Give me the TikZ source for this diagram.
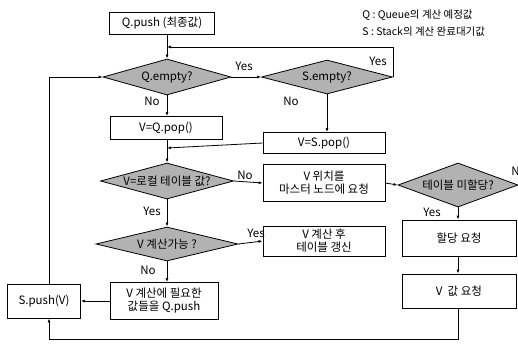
\documentclass[tikz,border=0pt]{standalone}
\usepackage{fontspec}
\setmainfont{Noto Sans CJK KR}
\usetikzlibrary{shapes.geometric,arrows.meta}
\newcommand{\zw}[1]{\makebox[0pt]{#1}}
\begin{document}
\begin{tikzpicture}[x=1pt,y=-1pt,
  line width=0.8pt,
  font=\fontsize{11.5}{13}\selectfont,
  box/.style={draw, rectangle, inner sep=1pt, align=center},
  dia/.style={draw, diamond, fill=gray!60, inner sep=0pt, aspect=3.5},
  arr/.style={-{Latex[length=4pt,width=3pt]}},
  lbl/.style={inner sep=0pt}]
\useasboundingbox (0,0) rectangle (518,343);
% nodes
\node[box, minimum width=105pt, minimum height=22pt] (qpush) at (162,23) {Q.push (최종값)};
\node[dia, minimum width=128pt, minimum height=36pt] (qempty) at (167,77) {\zw{Q.empty?}};
\node[dia, minimum width=131pt, minimum height=34pt] (sempty) at (327,77) {\zw{S.empty?}};
\node[box, minimum width=112pt, minimum height=23pt] (qpop) at (166,128) {V=Q.pop()};
\node[box, minimum width=122pt, minimum height=21pt] (spop) at (324,143) {V=S.pop()};
\node[dia, minimum width=133pt, minimum height=36pt] (vlocal) at (167,181) {\zw{V=로컬 테이블 값?}};
\node[box, minimum width=122pt, minimum height=37pt] (vpos) at (324,183) {V 위치를\\마스터 노드에 요청};
\node[dia, minimum width=120pt, minimum height=44pt] (tbl) at (458,185) {\zw{테이블 미할당?}};
\node[dia, minimum width=142pt, minimum height=34pt] (vcan) at (167,244) {\zw{V 계산가능 ?}};
\node[box, minimum width=122pt, minimum height=30pt] (vupd) at (324,241) {V 계산 후\\테이블 갱신};
\node[box, minimum width=114pt, minimum height=36pt] (alloc) at (459,238) {할당 요청};
\node[box, minimum width=114pt, minimum height=34pt] (vval) at (459,291) {V\ \ 값 요청};
\node[box, minimum width=108pt, minimum height=37pt] (vneed) at (164,301) {V 계산에 필요한\\값들을 Q.push};
\node[box, minimum width=73pt, minimum height=34pt] (spush) at (44,301) {S.push(V)};
% legend
\node[lbl, anchor=west, font=\fontsize{10.5}{12}\selectfont] (leg1) at (362,15) {Q : Queue의 계산 예정값};
\node[lbl, anchor=west, font=\fontsize{10.5}{12}\selectfont] (leg2) at (362,32) {S : Stack의 계산 완료대기값};
% coordinates
\coordinate (j1) at (167,47);
\coordinate (j2) at (167,148);
\coordinate (c3) at (49,339);
% connectors
\draw[arr] (qpush.south -| qempty.north) -- (qempty.north);
\draw[arr] (qempty.east) -- (sempty.west);
\draw[arr] (sempty.east) |- (j1);
\draw[arr] (qempty.south) -- (qempty.south |- qpop.north);
\draw[arr] (sempty.south) -- (sempty.south |- spop.north);
\draw[arr] (spop.west) -- (j2);
\draw[arr] (qpop.south -| vlocal.north) -- (vlocal.north);
\draw[arr] (vlocal.east) -- (vpos.west);
\draw[arr] (vpos.east) -- (tbl.west);
\draw[arr] (tbl.south) -- (tbl.south |- alloc.north);
\draw[arr] (alloc.south -| tbl.south) -- (tbl.south |- vval.north);
\draw[arr] (vlocal.south) -- (vcan.north);
\draw[arr] (vcan.east) -- (vupd.west);
\draw[arr] (vcan.south) -- (vcan.south |- vneed.north);
\draw[arr] (vneed.west) -- (spush.east);
\draw[arr] (vval.south -| tbl.south) |- (c3) -- (c3 |- spush.south);
\draw[arr] (spush.north -| c3) |- (qempty.west);
% labels
\node[lbl] (l1) at (244,66) {Yes};
\node[lbl] (l2) at (378,61) {Yes};
\node[lbl] (l3) at (152,101) {No};
\node[lbl] (l4) at (291,101) {No};
\node[lbl] (l5) at (245,175) {No};
\node[lbl, anchor=west] (l6) at (511,171) {No};
\node[lbl] (l7) at (152,211) {Yes};
\node[lbl] (l8) at (432,212) {Yes};
\node[lbl] (l9) at (256,233) {Yes};
\node[lbl] (l10) at (148,270) {No};
\end{tikzpicture}
\end{document}
